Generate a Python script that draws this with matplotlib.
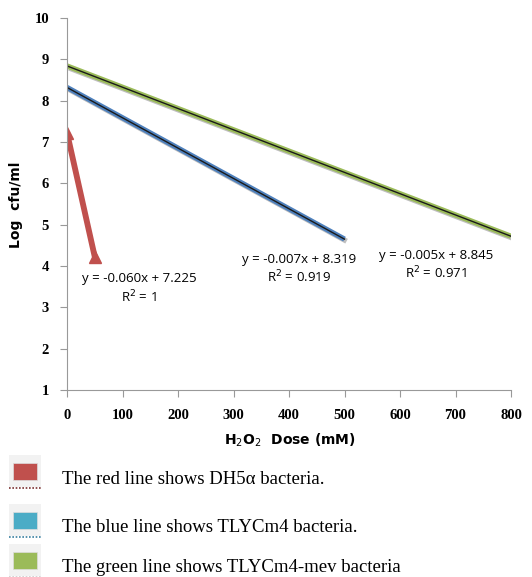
import matplotlib.pyplot as plt
import matplotlib.patheffects as pe
from matplotlib.patches import Rectangle

# data
red_x = [0, 50]
red_y = [7.225, 4.225]
blue_x = [0, 500]
blue_y = [8.32, 4.65]
green_x = [0, 800]
green_y = [8.84, 4.72]

equations = ['y = -0.060x + 7.225', 'y = -0.007x + 8.319', 'y = -0.005x + 8.845']
r2_labels = ['R$^2$ = 1', 'R$^2$ = 0.919', 'R$^2$ = 0.971']

legend_colors = ['#C0504D', '#4BACC6', '#9BBB59']
legend_dots = ['#7a3030', '#3a7fa0', '#cccccc']
legend_texts = ['The red line shows DH5\u03b1 bacteria.',
                'The blue line shows TLYCm4 bacteria.',
                'The green line shows TLYCm4-mev bacteria']

W, H = 532, 577
fig = plt.figure(figsize=(W / 100, H / 100), dpi=100)
ax = fig.add_axes([67 / W, 1 - 390 / H, 444 / W, 372 / H])


def fx(px):
    return px / W


def fy(py):
    return 1 - py / H


shadow = [pe.SimpleLineShadow(offset=(1.5, -1.5), alpha=0.25, shadow_color='k'), pe.Normal()]

ax.plot(green_x, green_y, color='#9BBB59', lw=3.8, solid_capstyle='butt', path_effects=shadow)
ax.plot(green_x, green_y, color='#1a1a1a', lw=1.0)
ax.plot(blue_x, blue_y, color='#4F81BD', lw=3.8, solid_capstyle='butt', path_effects=shadow)
ax.plot(blue_x, blue_y, color='#1a1a1a', lw=1.0)
ax.plot(red_x, red_y, color='#C0504D', lw=4.2, marker='^', ms=9, solid_capstyle='butt')

ax.set_xlim(0, 800)
ax.set_ylim(1, 10)
ax.set_xticks(range(0, 801, 100))
ax.set_yticks(range(1, 11))
for s in ['top', 'right']:
    ax.spines[s].set_visible(False)
for s in ['left', 'bottom']:
    ax.spines[s].set_color('#999999')
ax.tick_params(direction='out', length=5, color='#999999', labelsize=10.5)
for lab in ax.get_xticklabels() + ax.get_yticklabels():
    lab.set_family('Liberation Serif')
    lab.set_fontweight('bold')
ax.tick_params(axis='x', pad=9)
ax.tick_params(axis='y', pad=8)

fig.text(fx(290), fy(440), 'H$_2$O$_2$  Dose (mM)', ha='center', va='center',
         fontsize=10, fontweight='bold', family='DejaVu Sans')
fig.text(fx(16), fy(205), 'Log  cfu/ml', ha='center', va='center', rotation=90,
         fontsize=10, fontweight='bold', family='DejaVu Sans')

eq_pos = [(139, 279, 297), (299, 259, 277), (436, 256, 273)]
for (cx, y1, y2), eq, r2 in zip(eq_pos, equations, r2_labels):
    fig.text(fx(cx), fy(y1), eq, ha='center', va='center', fontsize=9.5, family='Open Sans')
    fig.text(fx(cx), fy(y2), r2, ha='center', va='center', fontsize=9.5, family='Open Sans')

# legend block at the bottom
rows = [471, 520, 560]
for py, c, d, t in zip(rows, legend_colors, legend_dots, legend_texts):
    fig.patches.append(Rectangle((fx(9), fy(py + 16)), 32 / W, 32 / H, transform=fig.transFigure,
                                 facecolor='#f2f2f2', edgecolor='none'))
    fig.patches.append(Rectangle((fx(13), fy(py + 9)), 24 / W, 17 / H, transform=fig.transFigure,
                                 facecolor=c, edgecolor='#dddddd', lw=0.5))
    fig.lines.append(plt.Line2D([fx(9), fx(42)], [fy(py + 17), fy(py + 17)], transform=fig.transFigure,
                                color=d, lw=1.2, ls=(0, (1, 1))))
    fig.text(fx(62), fy(py + 8), t, ha='left', va='center', fontsize=13.5, family='Liberation Serif')

fig.savefig('out.png', dpi=100)
